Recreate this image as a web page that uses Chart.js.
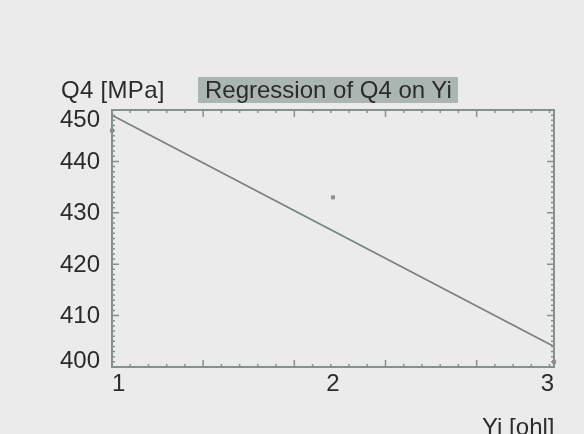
<!DOCTYPE html>
<html>
<head>
<meta charset="utf-8">
<script src="https://cdn.jsdelivr.net/npm/chart.js@4"></script>
<style>
  html, body { margin: 0; padding: 0; background: #ebebeb; }
  #wrap { position: relative; width: 584px; height: 434px; overflow: hidden;
          font-family: "Liberation Sans", Arial, sans-serif; color: #2b2b2b; }
  canvas { position: absolute; left: 0; top: 0; }
  .lbl { position: absolute; white-space: nowrap; line-height: 1; }
  #yunit { left: 61px; top: 78px; font-size: 24px; letter-spacing: 0.3px; }
  #title { left: 198px; top: 77px; width: 260px; height: 26px; line-height: 26px;
           background: #abb6b3; font-size: 24px; padding-left: 7px; box-sizing: border-box; }
  #xunit { left: 482px; top: 415px; font-size: 24px; }
</style>
</head>
<body>
<div id="wrap">
  <canvas id="grafico" width="584" height="434"></canvas>
  <div class="lbl" id="yunit">Q4 [MPa]</div>
  <div class="lbl" id="title">Regression of Q4 on Yi</div>
  <div class="lbl" id="xunit">Yi [ohl]</div>
</div>
<script>
// valores
const ticksYi = [1, 2, 3];
const ticksQ4 = [400, 410, 420, 430, 440, 450];
const amostraYi = [1, 2, 3];
const amostraQ4 = [446, 433, 401];
const retaYi = [1, 3];
const retaQ4 = [449, 404];

const fonte = '"Liberation Sans", Arial, sans-serif';
const corEixo = '#86918f';
const corTexto = '#2b2b2b';

// moldura com marcas voltadas para dentro + rótulos do eixo Q4
const moldura = {
  id: 'moldura',
  afterDatasetsDraw(chart) {
    const { ctx, chartArea: a, scales: { x, y } } = chart;
    ctx.save();
    ctx.strokeStyle = corEixo;
    ctx.lineWidth = 2;
    ctx.strokeRect(a.left, a.top, a.right - a.left, a.bottom - a.top);
    ctx.lineWidth = 1.5;
    ctx.beginPath();
    for (let v = ticksQ4[0]; v <= ticksQ4[ticksQ4.length - 1]; v += 1) {
      const py = y.getPixelForValue(v);
      const len = v % 10 === 0 ? 7 : 3;
      ctx.moveTo(a.left, py); ctx.lineTo(a.left + len, py);
      ctx.moveTo(a.right, py); ctx.lineTo(a.right - len, py);
    }
    for (let i = 0; ; i++) {
      const v = 1 + i * 0.0825;
      if (v > 3) break;
      const px = x.getPixelForValue(v);
      const len = i % 5 === 0 ? 7 : 3;
      ctx.moveTo(px, a.bottom); ctx.lineTo(px, a.bottom - len);
      ctx.moveTo(px, a.top); ctx.lineTo(px, a.top + len);
    }
    ctx.stroke();

    // rótulos das extremidades ficam puxados para dentro, como na figura
    ctx.fillStyle = corTexto;
    ctx.font = '24px ' + fonte;
    ctx.textAlign = 'right';
    ctx.textBaseline = 'middle';
    ticksQ4.forEach((v, i) => {
      let py = y.getPixelForValue(v);
      if (i === 0) py -= 7;
      if (i === ticksQ4.length - 1) py += 9;
      ctx.fillText(String(v), a.left - 12, py + 1);
    });
    ctx.restore();
  }
};

const contexto = document.getElementById('grafico').getContext('2d');
new Chart(contexto, {
  type: 'scatter',
  data: {
    datasets: [
      {
        label: 'Regressão',
        data: retaYi.map((v, i) => ({ x: v, y: retaQ4[i] })),
        showLine: true,
        borderColor: '#778181',
        borderWidth: 1.7,
        pointRadius: 0,
        clip: false
      },
      {
        label: 'Q4',
        data: amostraYi.map((v, i) => ({ x: v, y: amostraQ4[i] })),
        pointStyle: 'rect',
        pointRadius: 2.8,
        backgroundColor: '#8a8f8f',
        borderWidth: 0,
        clip: false
      }
    ]
  },
  options: {
    responsive: false,
    animation: false,
    layout: { padding: { top: 110, right: 30, left: 0, bottom: 0 } },
    plugins: { legend: { display: false }, tooltip: { enabled: false } },
    scales: {
      x: {
        type: 'linear', min: 1, max: 3,
        afterFit: s => { s.height = 67; },
        afterBuildTicks: s => { s.ticks = ticksYi.map(v => ({ value: v })); },
        grid: { display: false, drawTicks: false },
        border: { display: false },
        ticks: { padding: 3, align: 'inner', color: corTexto, font: { family: fonte, size: 24 } }
      },
      y: {
        type: 'linear', min: 400, max: 450,
        afterFit: s => { s.width = 112; },
        afterBuildTicks: s => { s.ticks = ticksQ4.map(v => ({ value: v })); },
        grid: { display: false, drawTicks: false },
        border: { display: false },
        ticks: { display: false }
      }
    }
  },
  plugins: [moldura]
});
</script>
</body>
</html>
